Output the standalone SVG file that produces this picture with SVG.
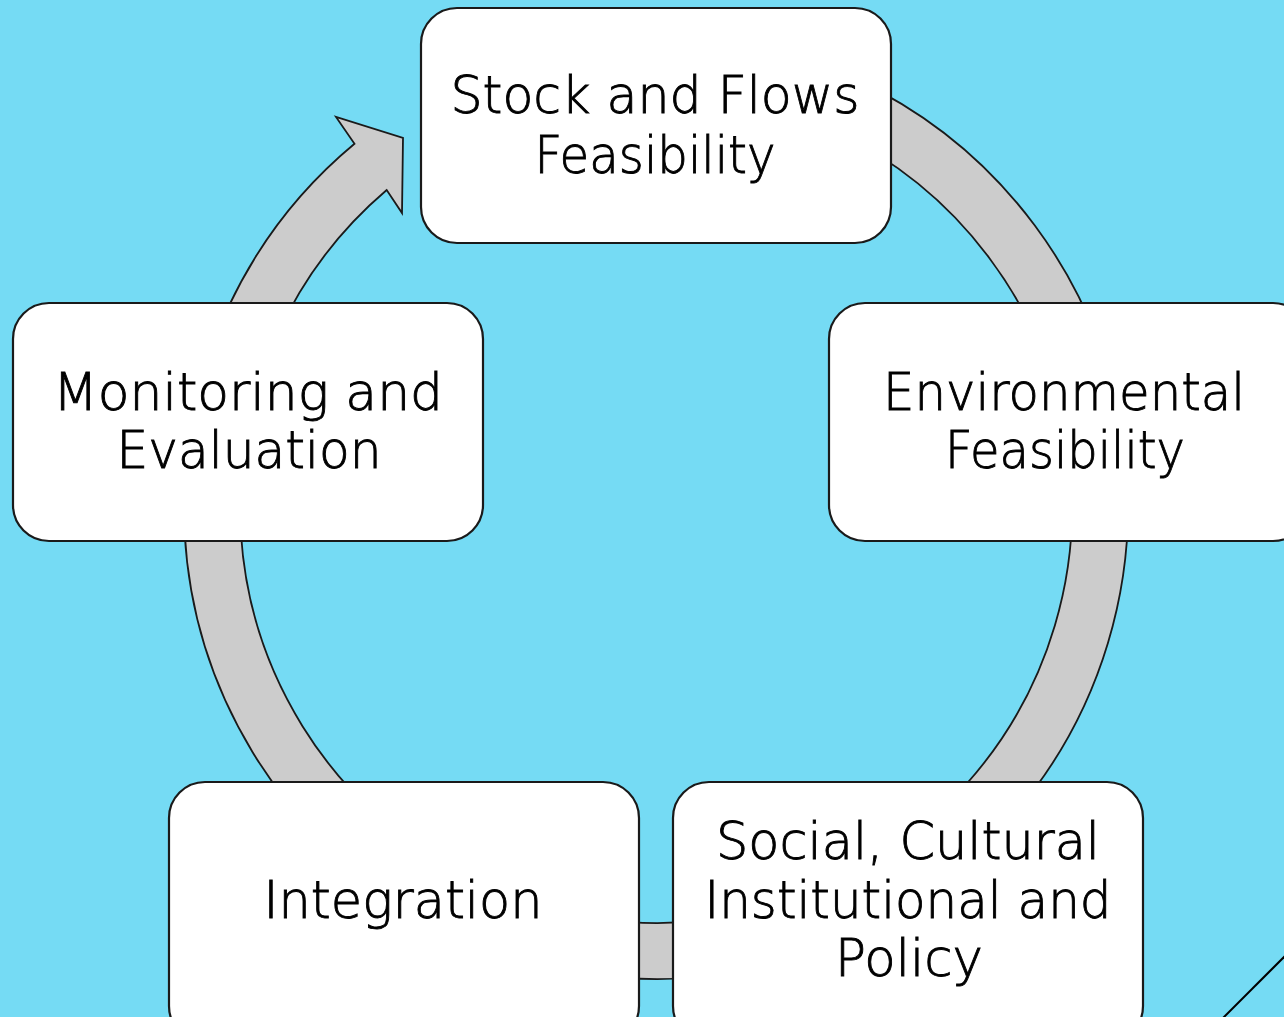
<svg xmlns="http://www.w3.org/2000/svg" width="1284" height="1017" viewBox="0 0 1284 1017">
<style>
.box{fill:#ffffff;stroke:#1a1a1a;stroke-width:2.2}
.ring{fill:#cccccc;stroke:#1a1a1a;stroke-width:1.8;stroke-linejoin:miter}
.t{font-family:"DejaVu Sans","Liberation Sans",sans-serif;font-weight:200;font-size:52px;fill:#000000;stroke:#000000;stroke-width:0.9;text-anchor:middle}
</style>
<rect x="0" y="0" width="1284" height="1017" fill="#75dbf4"/>
<g id="connectors">
<path class="ring" d="M 656 35 A 472 472 0 1 1 354.5 143.8 L 336 117 L 403 138 L 402 213 L 386.7 190 A 416 416 0 1 0 656 91 Z"/>
<line x1="1222" y1="1019" x2="1286" y2="955" stroke="#000" stroke-width="2"/>
</g>
<g id="node-stock">
<rect class="box" x="421" y="8" width="470" height="235" rx="36"/>
<text class="t" x="655" y="113" textLength="409" lengthAdjust="spacingAndGlyphs">Stock and Flows</text>
<text class="t" x="655" y="173" textLength="241" lengthAdjust="spacingAndGlyphs">Feasibility</text>
</g>
<g id="node-environmental">
<rect class="box" x="829" y="303" width="480" height="238" rx="36"/>
<text class="t" x="1064" y="410" textLength="362" lengthAdjust="spacingAndGlyphs">Environmental</text>
<text class="t" x="1065" y="468" textLength="240" lengthAdjust="spacingAndGlyphs">Feasibility</text>
</g>
<g id="node-social">
<rect class="box" x="673" y="782" width="470" height="260" rx="36"/>
<text class="t" x="908" y="859" textLength="384" lengthAdjust="spacingAndGlyphs">Social, Cultural</text>
<text class="t" x="908" y="918" textLength="407" lengthAdjust="spacingAndGlyphs">Institutional and</text>
<text class="t" x="909" y="976" textLength="148" lengthAdjust="spacingAndGlyphs">Policy</text>
</g>
<g id="node-integration">
<rect class="box" x="169" y="782" width="470" height="260" rx="36"/>
<text class="t" x="403" y="918" textLength="279" lengthAdjust="spacingAndGlyphs">Integration</text>
</g>
<g id="node-monitoring">
<rect class="box" x="13" y="303" width="470" height="238" rx="36"/>
<text class="t" x="248" y="410" textLength="390" lengthAdjust="spacingAndGlyphs">Monitoring and</text>
<text class="t" x="249" y="468" textLength="265" lengthAdjust="spacingAndGlyphs">Evaluation</text>
</g>
</svg>
